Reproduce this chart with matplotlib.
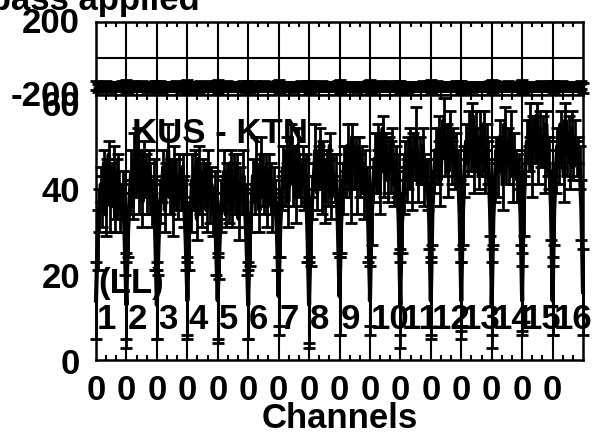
import numpy as np
import matplotlib
matplotlib.use("Agg")
import matplotlib.pyplot as plt
from matplotlib.transforms import blended_transform_factory, offset_copy

plt.rcParams['font.family'] = ['Liberation Sans', 'DejaVu Sans']
plt.rcParams['font.weight'] = 'bold'

# 16 IFs, 20 channels each; first/last channel of each IF sit on the IF boundary
if_labels = ['1', '2', '3', '4', '5', '6', '7', '8', '9', '10',
             '11', '12', '13', '14', '15', '16']
n_chan = 20

amp_rows = [
    [15, 29, 36, 42, 38, 47, 35, 44, 49, 37, 43, 46, 34, 41, 45, 36, 39, 40, 28, 14],
    [16, 31, 39, 45, 37, 48, 43, 52, 40, 46, 38, 49, 44, 39, 47, 41, 36, 43, 30, 15],
    [14, 28, 38, 41, 46, 36, 44, 50, 39, 45, 35, 47, 42, 37, 44, 40, 46, 38, 29, 16],
    [15, 30, 35, 43, 39, 46, 34, 48, 41, 37, 45, 43, 36, 47, 39, 42, 35, 41, 27, 15],
    [16, 27, 37, 40, 45, 35, 43, 39, 47, 36, 44, 41, 46, 34, 42, 38, 44, 37, 28, 14],
    [15, 29, 36, 44, 38, 47, 42, 36, 49, 43, 39, 46, 37, 45, 41, 36, 43, 39, 30, 16],
    [17, 32, 40, 46, 41, 50, 38, 47, 53, 42, 48, 39, 51, 44, 40, 47, 42, 44, 31, 15],
    [14, 31, 39, 44, 50, 40, 46, 52, 41, 48, 38, 47, 43, 51, 39, 45, 41, 43, 32, 16],
    [16, 33, 41, 47, 42, 51, 45, 39, 53, 46, 49, 41, 50, 44, 47, 40, 46, 43, 32, 17],
    [15, 34, 42, 48, 44, 53, 40, 50, 55, 45, 51, 43, 49, 46, 52, 42, 47, 44, 33, 14],
    [17, 33, 40, 49, 43, 47, 52, 41, 50, 46, 54, 42, 48, 45, 51, 43, 45, 42, 34, 16],
    [15, 36, 44, 50, 46, 55, 43, 52, 57, 48, 53, 45, 56, 47, 51, 44, 49, 46, 35, 15],
    [16, 35, 45, 52, 47, 54, 49, 58, 46, 55, 50, 44, 53, 48, 56, 45, 50, 47, 36, 17],
    [14, 34, 43, 50, 45, 53, 48, 42, 56, 47, 52, 46, 54, 44, 50, 47, 43, 45, 35, 15],
    [17, 37, 46, 52, 48, 57, 45, 54, 50, 58, 47, 55, 49, 53, 46, 56, 48, 47, 37, 16],
    [15, 36, 45, 51, 47, 56, 50, 44, 57, 49, 54, 47, 55, 46, 52, 48, 50, 46, 36, 17],
]
amp_err_rows = [
    [9, 7, 5, 4, 6, 3, 5, 4, 3, 6, 4, 5, 3, 7, 4, 5, 3, 5, 7, 10],
    [10, 6, 4, 5, 3, 6, 4, 3, 5, 4, 6, 3, 5, 4, 3, 6, 4, 5, 8, 9],
    [8, 7, 5, 3, 4, 5, 3, 6, 4, 3, 5, 4, 6, 3, 5, 4, 3, 6, 7, 9],
    [9, 8, 4, 6, 3, 4, 5, 3, 6, 5, 3, 4, 5, 3, 6, 4, 5, 4, 6, 10],
    [10, 7, 6, 4, 5, 3, 4, 6, 3, 4, 5, 6, 3, 5, 4, 3, 6, 5, 7, 8],
    [9, 6, 5, 4, 3, 6, 3, 5, 4, 6, 4, 3, 5, 4, 6, 5, 3, 4, 8, 9],
    [8, 7, 4, 5, 4, 3, 6, 4, 3, 5, 3, 6, 4, 5, 3, 4, 6, 5, 7, 10],
    [10, 8, 5, 3, 6, 4, 5, 3, 6, 4, 5, 3, 6, 3, 5, 4, 3, 6, 6, 9],
    [9, 7, 6, 4, 3, 5, 4, 6, 3, 5, 4, 6, 3, 5, 4, 6, 4, 3, 8, 8],
    [8, 6, 4, 6, 4, 3, 5, 4, 3, 6, 3, 5, 4, 6, 3, 5, 4, 5, 7, 10],
    [10, 7, 5, 3, 5, 6, 3, 5, 4, 3, 6, 4, 5, 3, 4, 6, 3, 6, 7, 9],
    [9, 8, 4, 5, 4, 3, 6, 3, 5, 4, 3, 6, 3, 5, 4, 3, 5, 4, 8, 9],
    [8, 7, 6, 4, 3, 5, 4, 3, 6, 4, 5, 3, 6, 4, 3, 5, 6, 5, 6, 10],
    [10, 6, 5, 3, 6, 4, 3, 6, 4, 5, 3, 4, 5, 6, 4, 3, 5, 4, 7, 8],
    [9, 7, 4, 5, 3, 4, 6, 4, 3, 3, 5, 4, 3, 5, 6, 3, 4, 6, 8, 9],
    [8, 8, 5, 4, 5, 3, 4, 6, 4, 5, 4, 6, 4, 3, 5, 4, 3, 5, 7, 10],
]

phase_rows = [
    [-147, -160, -145, -162, -148, -159, -144, -161, -147, -163, -146, -158, -145, -161, -148, -160, -144, -162, -147, -159],
    [-145, -161, -148, -158, -144, -162, -147, -160, -146, -159, -143, -161, -148, -163, -145, -158, -147, -161, -144, -160],
    [-148, -159, -144, -163, -147, -160, -145, -158, -148, -162, -146, -160, -144, -159, -147, -163, -145, -160, -148, -161],
    [-144, -162, -147, -159, -145, -161, -148, -163, -144, -160, -147, -158, -146, -162, -144, -160, -148, -159, -145, -162],
    [-146, -158, -145, -161, -148, -160, -143, -162, -146, -159, -148, -161, -145, -160, -147, -158, -144, -163, -146, -160],
    [-147, -161, -146, -160, -144, -159, -147, -162, -145, -161, -144, -160, -148, -158, -146, -162, -145, -160, -147, -158],
    [-145, -160, -148, -162, -146, -158, -145, -160, -148, -163, -145, -159, -147, -161, -144, -160, -148, -162, -145, -161],
    [-148, -159, -144, -160, -147, -162, -146, -159, -144, -161, -148, -160, -145, -162, -147, -159, -146, -160, -144, -162],
    [-146, -162, -147, -158, -145, -160, -148, -161, -146, -159, -145, -163, -147, -160, -145, -158, -147, -161, -146, -160],
    [-144, -160, -146, -161, -148, -159, -144, -162, -147, -160, -146, -158, -144, -161, -148, -162, -145, -159, -147, -161],
    [-147, -161, -145, -159, -146, -163, -147, -160, -145, -158, -148, -161, -146, -160, -144, -159, -147, -162, -145, -160],
    [-145, -159, -148, -162, -144, -160, -146, -158, -148, -161, -145, -160, -147, -162, -146, -160, -144, -158, -148, -161],
    [-148, -160, -146, -159, -147, -161, -145, -163, -146, -160, -147, -159, -145, -161, -148, -160, -146, -162, -145, -159],
    [-146, -162, -144, -160, -148, -158, -147, -161, -145, -162, -144, -160, -148, -159, -146, -161, -147, -160, -144, -162],
    [-144, -159, -147, -161, -145, -162, -148, -160, -147, -158, -146, -162, -144, -160, -147, -159, -145, -161, -148, -160],
    [-147, -161, -145, -158, -146, -160, -144, -162, -148, -161, -145, -159, -147, -160, -145, -162, -146, -158, -147, -161],
]
phase_err = [26, 22, 18, 18, 18, 18, 18, 18, 18, 18, 18, 18, 18, 18, 18, 18, 18, 18, 22, 26]

amp_ticks = [0, 20, 40, 60]
phase_ticks = [200, -200]

# x position of every channel, in IF units
chan = np.arange(n_chan)
x = np.concatenate([k + chan / (n_chan - 1) for k in range(len(if_labels))])
amp = np.concatenate(amp_rows)
amp_e = np.concatenate(amp_err_rows)
phase = np.concatenate(phase_rows)
phase_e = np.tile(phase_err, len(if_labels))

fs = 25
fig = plt.figure(figsize=(5.94, 4.38), dpi=100)
ax_ph = fig.add_axes([0.16162, 0.78311, 0.81987, 0.16667])
ax_amp = fig.add_axes([0.16162, 0.17808, 0.81987, 0.60502])


def draw_errors(ax, y, e):
    cont = ax.errorbar(x, y, yerr=e, color='black', lw=3.0, elinewidth=2.0,
                       capsize=4.0, capthick=2.0, zorder=3)
    for art in cont.get_children():
        art.set_clip_on(False)


draw_errors(ax_ph, phase, phase_e)
draw_errors(ax_amp, amp, amp_e)

for ax in (ax_ph, ax_amp):
    ax.set_xlim(0, 16)
    ax.set_xticks(range(16))
    ax.set_xticks([k + f for k in range(16) for f in (1 / 3, 2 / 3)], minor=True)
    ax.tick_params(axis='x', which='major', length=0)
    ax.tick_params(axis='x', which='minor', direction='in', top=True,
                   bottom=True, length=3.6, width=1.5)
    ax.grid(axis='x', color='black', lw=1.5)
    for s in ax.spines.values():
        s.set_linewidth(1.8)
    ax.set_yticks([])

ax_ph.set_ylim(-200, 200)
ax_ph.axhline(0, color='black', lw=1.5)
ax_ph.set_xticklabels([])

ax_amp.set_ylim(1.16, 62.79)
ax_amp.set_xticklabels(['0'] * 16, fontsize=fs, fontweight='bold')
ax_amp.tick_params(axis='x', which='major', pad=10)

# y labels placed by hand (POSSM-style positioning)
ph_trans = offset_copy(ax_ph.get_yaxis_transform(), fig=fig, y=-2, units='dots')
for v in phase_ticks:
    ax_ph.text(-0.033, v, str(v), transform=ph_trans,
               ha='right', va='center', fontsize=fs, fontweight='bold')
for v in amp_ticks:
    ax_amp.text(-0.033, v, str(v), transform=ax_amp.get_yaxis_transform(),
                ha='right', va='center', fontsize=fs, fontweight='bold')

# IF numbers along the bottom
trans = blended_transform_factory(ax_amp.transData, ax_amp.transAxes)
for k, lab in enumerate(if_labels):
    ax_amp.text(k + 0.03, 0.117, lab, transform=trans, ha='left',
                va='baseline', fontsize=fs, fontweight='bold', zorder=5)

ax_amp.text(0.074, 0.819, 'KUS - KTN', transform=ax_amp.transAxes,
            ha='left', va='baseline', fontsize=fs, fontweight='bold', zorder=5)
ax_amp.text(0.004, 0.253, '(LL)', transform=ax_amp.transAxes,
            ha='left', va='baseline', fontsize=fs, fontweight='bold', zorder=5)

fig.text(340 / 594, 1 - 428 / 438, 'Channels', ha='center', va='baseline',
         fontsize=fs, fontweight='bold')
fig.text(200 / 594, 1 - 10 / 438, 'Bandpass applied', ha='right',
         va='baseline', fontsize=fs, fontweight='bold')

fig.savefig('out.png', dpi=100)
